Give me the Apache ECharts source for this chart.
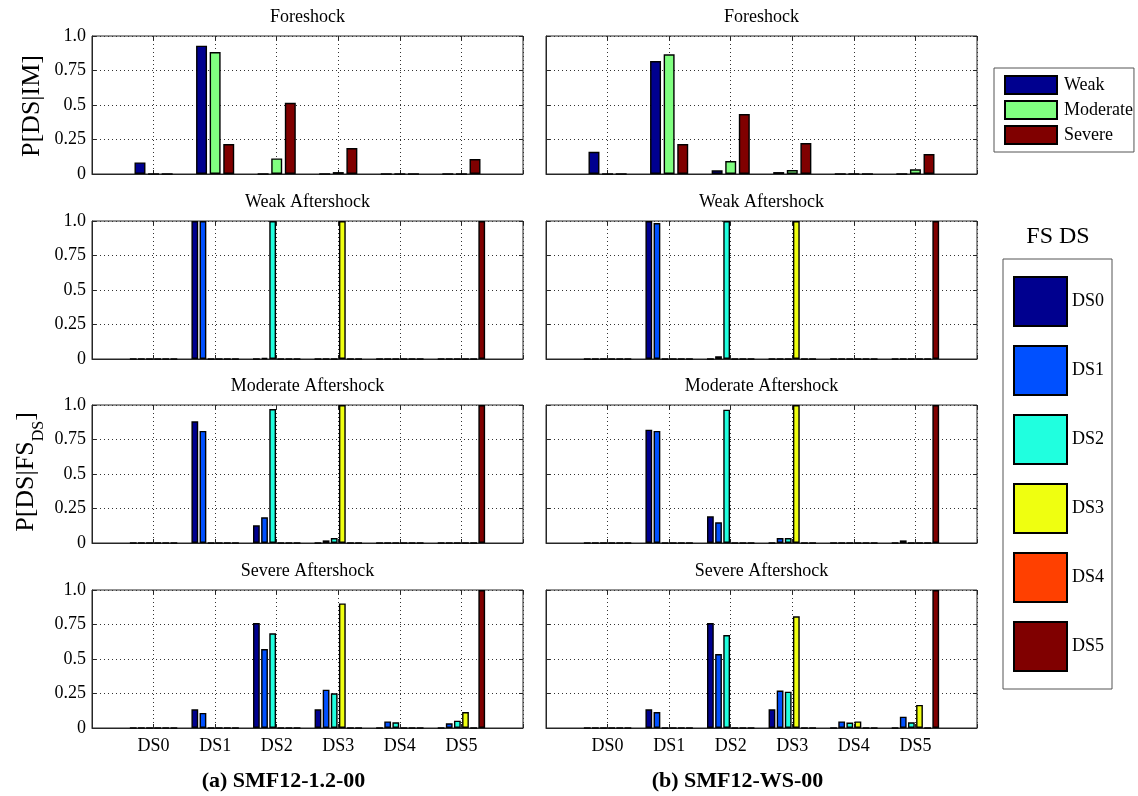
<!DOCTYPE html>
<html><head><meta charset="utf-8">
<script src="https://cdn.jsdelivr.net/npm/echarts@6/dist/echarts.min.js"></script>
<style>html,body{margin:0;padding:0;background:#fff}#c{width:1138px;height:796px}</style>
</head><body><div id="c"></div>
<script>
// ---------- data ----------
const categories = ['DS0', 'DS1', 'DS2', 'DS3', 'DS4', 'DS5'];
const yTickLabels = ['0', '0.25', '0.5', '0.75', '1.0'];
const imLevels = ['Weak', 'Moderate', 'Severe'];
const fsStates = ['DS0', 'DS1', 'DS2', 'DS3', 'DS4', 'DS5'];
const panelTitles = ['Foreshock', 'Weak Aftershock', 'Moderate Aftershock', 'Severe Aftershock'];
const captions = ['(a) SMF12-1.2-00', '(b) SMF12-WS-00'];

// (a) SMF12-1.2-00 : foreshock P[DS|IM]
const foreA_Weak     = [0.084, 0.930, 0.000, 0.000, 0.000, 0.000];
const foreA_Moderate = [0.000, 0.884, 0.113, 0.014, 0.000, 0.000];
const foreA_Severe   = [0.000, 0.217, 0.516, 0.188, 0.000, 0.108];
// (b) SMF12-WS-00 : foreshock
const foreB_Weak     = [0.161, 0.819, 0.027, 0.014, 0.000, 0.000];
const foreB_Moderate = [0.000, 0.867, 0.094, 0.029, 0.000, 0.034];
const foreB_Severe   = [0.000, 0.217, 0.434, 0.224, 0.000, 0.145];

// (a) weak aftershock, one array per foreshock DS
const weakA_DS0 = [0, 1.000, 0.000, 0, 0, 0];
const weakA_DS1 = [0, 1.000, 0.008, 0, 0, 0];
const weakA_DS2 = [0, 0, 1.000, 0, 0, 0];
const weakA_DS3 = [0, 0, 0, 1.000, 0, 0];
const weakA_DS4 = [0, 0, 0, 0, 0, 0];
const weakA_DS5 = [0, 0, 0, 0, 0, 1.000];
// (b) weak aftershock
const weakB_DS0 = [0, 1.000, 0.000, 0, 0, 0];
const weakB_DS1 = [0, 0.985, 0.020, 0, 0, 0];
const weakB_DS2 = [0, 0, 1.000, 0, 0, 0];
const weakB_DS3 = [0, 0, 0, 1.000, 0, 0];
const weakB_DS4 = [0, 0, 0, 0, 0, 0];
const weakB_DS5 = [0, 0, 0, 0, 0, 1.000];

// (a) moderate aftershock
const modA_DS0 = [0, 0.882, 0.128, 0.000, 0, 0];
const modA_DS1 = [0, 0.812, 0.186, 0.019, 0, 0];
const modA_DS2 = [0, 0, 0.971, 0.036, 0, 0];
const modA_DS3 = [0, 0, 0, 1.000, 0, 0];
const modA_DS4 = [0, 0, 0, 0, 0, 0];
const modA_DS5 = [0, 0, 0, 0, 0, 1.000];
// (b) moderate aftershock
const modB_DS0 = [0, 0.821, 0.193, 0.000, 0, 0];
const modB_DS1 = [0, 0.812, 0.150, 0.036, 0, 0.019];
const modB_DS2 = [0, 0, 0.966, 0.036, 0, 0];
const modB_DS3 = [0, 0, 0, 1.000, 0, 0];
const modB_DS4 = [0, 0, 0, 0, 0, 0];
const modB_DS5 = [0, 0, 0, 0, 0, 1.000];

// (a) severe aftershock
const sevA_DS0 = [0, 0.135, 0.761, 0.135, 0.000, 0.000];
const sevA_DS1 = [0, 0.109, 0.572, 0.278, 0.048, 0.034];
const sevA_DS2 = [0, 0, 0.686, 0.251, 0.041, 0.053];
const sevA_DS3 = [0, 0, 0, 0.903, 0.000, 0.116];
const sevA_DS4 = [0, 0, 0, 0, 0, 0];
const sevA_DS5 = [0, 0, 0, 0, 0, 1.000];
// (b) severe aftershock
const sevB_DS0 = [0, 0.135, 0.761, 0.135, 0.000, 0.000];
const sevB_DS1 = [0, 0.116, 0.536, 0.271, 0.048, 0.082];
const sevB_DS2 = [0, 0, 0.674, 0.263, 0.039, 0.041];
const sevB_DS3 = [0, 0, 0, 0.809, 0.048, 0.167];
const sevB_DS4 = [0, 0, 0, 0, 0, 0];
const sevB_DS5 = [0, 0, 0, 0, 0, 1.000];

// ---------- styling ----------
const imColors = ['#00008F', '#80FF80', '#800000'];
const dsColors = ['#00008F', '#0050FF', '#20FFDF', '#EFFF10', '#FF4000', '#800000'];
const SERIF = '"Liberation Serif", "DejaVu Serif", serif';

const columns = [
  [[foreA_Weak, foreA_Moderate, foreA_Severe],
   [weakA_DS0, weakA_DS1, weakA_DS2, weakA_DS3, weakA_DS4, weakA_DS5],
   [modA_DS0, modA_DS1, modA_DS2, modA_DS3, modA_DS4, modA_DS5],
   [sevA_DS0, sevA_DS1, sevA_DS2, sevA_DS3, sevA_DS4, sevA_DS5]],
  [[foreB_Weak, foreB_Moderate, foreB_Severe],
   [weakB_DS0, weakB_DS1, weakB_DS2, weakB_DS3, weakB_DS4, weakB_DS5],
   [modB_DS0, modB_DS1, modB_DS2, modB_DS3, modB_DS4, modB_DS5],
   [sevB_DS0, sevB_DS1, sevB_DS2, sevB_DS3, sevB_DS4, sevB_DS5]]
];

const colLeft = [92, 546];
const gridW = 431;
const rowTop = [36, 221, 405, 590];
const gridH = 138;
const axisData = [''].concat(categories, ['']);
const AX = '#262626';
const GRIDLINE = {color: '#333', width: 1, type: [1, 3]};

const grids = [], xAxes = [], yAxes = [], series = [], graphics = [];
let gi = 0;
for (let c = 0; c < 2; c++) {
  for (let r = 0; r < 4; r++) {
    grids.push({left: colLeft[c], top: rowTop[r], width: gridW, height: gridH,
      show: true, borderColor: AX, borderWidth: 1, backgroundColor: '#fff'});
    // primary bottom axis
    xAxes.push({
      gridIndex: gi, type: 'category', boundaryGap: false, data: axisData,
      axisLine: {show: true, lineStyle: {color: AX, width: 1}},
      axisTick: {show: true, inside: true, length: 4, interval: 0, lineStyle: {color: AX}},
      axisLabel: {show: r === 3, interval: 0, margin: 9, color: '#000', fontSize: 18, fontFamily: SERIF},
      splitLine: {show: true, interval: 0, lineStyle: GRIDLINE}
    });
    // primary left axis
    yAxes.push({
      gridIndex: gi, type: 'value', min: 0, max: 1, interval: 0.25,
      axisLine: {show: true, lineStyle: {color: AX, width: 1}},
      axisTick: {show: true, inside: true, length: 4, lineStyle: {color: AX}},
      axisLabel: {show: c === 0, margin: 6, color: '#000', fontSize: 18, fontFamily: SERIF,
        formatter: v => yTickLabels[Math.round(v / 0.25)]},
      splitLine: {show: true, lineStyle: GRIDLINE}
    });
    const sets = columns[c][r];
    const names = r === 0 ? imLevels : fsStates;
    const colors = r === 0 ? imColors : dsColors;
    sets.forEach((vals, k) => {
      series.push({
        type: 'bar', name: names[k], xAxisIndex: gi, yAxisIndex: gi,
        data: ['-'].concat(vals, ['-']),
        barWidth: r === 0 ? '17.8%' : '11%', barGap: r === 0 ? '24%' : '20%',
        itemStyle: {color: colors[k], borderColor: '#000', borderWidth: 1.4},
        emphasis: {disabled: true}, silent: true, animation: false
      });
    });
    // panel title
    graphics.push({type: 'text', x: colLeft[c] + gridW / 2, y: rowTop[r] - 19,
      style: {text: panelTitles[r], font: '18px ' + SERIF, fill: '#000',
        textAlign: 'center', textVerticalAlign: 'middle', align: 'center', verticalAlign: 'middle'}});
    gi++;
  }
  graphics.push({type: 'text', x: colLeft[c] + gridW / 2 - 24, y: 781,
    style: {text: captions[c], font: 'bold 22px ' + SERIF, fill: '#000',
      textAlign: 'center', textVerticalAlign: 'middle', align: 'center', verticalAlign: 'middle'}});
}
// mirrored ticks on top and right of every panel (MATLAB box style)
for (let g = 0; g < 8; g++) {
  xAxes.push({gridIndex: g, type: 'category', boundaryGap: false, data: axisData, position: 'top',
    axisLine: {show: false, onZero: false}, axisLabel: {show: false}, splitLine: {show: false},
    axisTick: {show: true, inside: true, length: 4, interval: 0, lineStyle: {color: AX}}});
  yAxes.push({gridIndex: g, type: 'value', min: 0, max: 1, interval: 0.25, position: 'right',
    axisLine: {show: false, onZero: false}, axisLabel: {show: false}, splitLine: {show: false},
    axisTick: {show: true, inside: true, length: 4, lineStyle: {color: AX}}});
}

// y-axis titles
graphics.push({type: 'text', x: 32, y: 106, rotation: Math.PI / 2,
  style: {text: 'P[DS|IM]', font: '26px ' + SERIF, fill: '#000',
    textAlign: 'center', textVerticalAlign: 'middle', align: 'center', verticalAlign: 'middle'}});
graphics.push({type: 'text', x: 30, y: 472, rotation: Math.PI / 2,
  style: {text: '{a|P[DS|FS}{b|DS}{a|]}', fill: '#000',
    textAlign: 'center', textVerticalAlign: 'middle', align: 'center', verticalAlign: 'middle',
    rich: {a: {fontSize: 26, fontFamily: SERIF, lineHeight: 34, verticalAlign: 'top', fill: '#000', color: '#000'},
           b: {fontSize: 16, fontFamily: SERIF, lineHeight: 16, verticalAlign: 'bottom', fill: '#000', color: '#000'}}}});
// legend heading
graphics.push({type: 'text', x: 1058, y: 237,
  style: {text: 'FS DS', font: '24px ' + SERIF, fill: '#000',
    textAlign: 'center', textVerticalAlign: 'middle', align: 'center', verticalAlign: 'middle'}});

const option = {
  backgroundColor: '#fff',
  animation: false,
  grid: grids, xAxis: xAxes, yAxis: yAxes, series: series,
  legend: [
    {data: imLevels, orient: 'vertical', left: 994, top: 68, icon: 'rect',
     itemWidth: 52, itemHeight: 18, itemGap: 5, padding: [7, 1, 7, 10],
     borderColor: '#555', borderWidth: 1, selectedMode: false,
     textStyle: {color: '#000', fontSize: 18, lineHeight: 18, fontFamily: SERIF, padding: [0, 0, 0, 2]}},
    {data: fsStates, orient: 'vertical', left: 1003, top: 259, icon: 'rect',
     itemWidth: 53, itemHeight: 49, itemGap: 18, padding: [17, 8, 17, 10],
     borderColor: '#555', borderWidth: 1, selectedMode: false,
     textStyle: {color: '#000', fontSize: 18, fontFamily: SERIF}}
  ],
  graphic: graphics
};
const chart = echarts.init(document.getElementById('c'), null, {renderer: 'canvas'});
chart.setOption(option);
</script></body></html>
